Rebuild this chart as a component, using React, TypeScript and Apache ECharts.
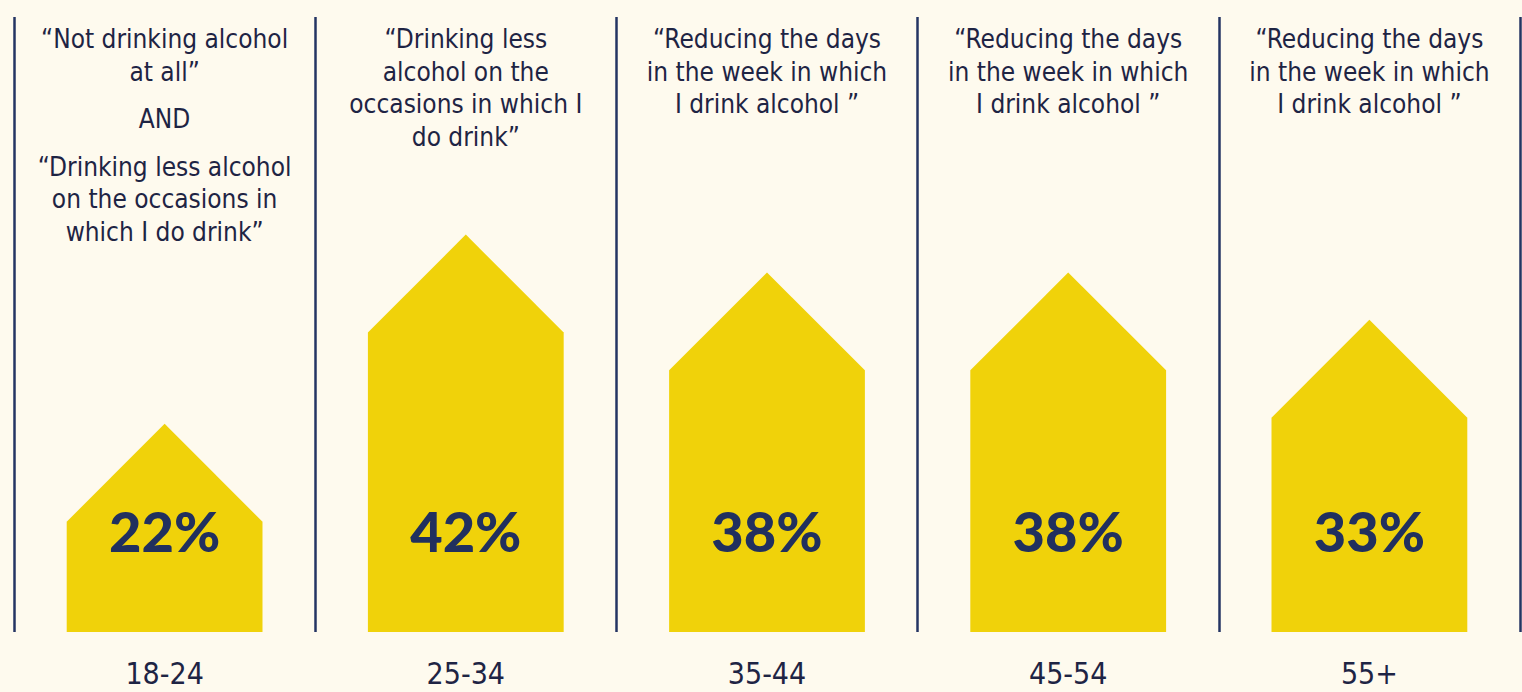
import React, { useEffect, useRef } from 'react';
import * as echarts from 'echarts';

const categories = ['18-24', '25-34', '35-44', '45-54', '55+'];
const percentages = [22, 42, 38, 38, 33];
const quotes = [
  '“Not drinking alcohol\nat all”\n\nAND\n\n“Drinking less alcohol\non the occasions in\nwhich I do drink”',
  '“Drinking less\nalcohol on the\noccasions in which I\ndo drink”',
  '“Reducing the days\nin the week in which\nI drink alcohol ”',
  '“Reducing the days\nin the week in which\nI drink alcohol ”',
  '“Reducing the days\nin the week in which\nI drink alcohol ”',
];

const BG = '#fefaee';
const YELLOW = '#f0d20a';
const LINE = '#243463';
const TEXT = '#1e2444';
const PCT = '#21305e';
const FONT = '"DejaVu Sans Condensed", "DejaVu Sans", sans-serif';

export default function App() {
  const ref = useRef<HTMLDivElement>(null);
  useEffect(() => {
    const chart = echarts.init(ref.current!, null, { renderer: 'svg' });
    chart.setOption({
      animation: false,
      backgroundColor: BG,
      grid: { left: 14, right: 2, top: 17, bottom: 60 },
      xAxis: [
        {
          type: 'category',
          data: categories,
          position: 'bottom',
          axisLine: { show: false },
          axisTick: { show: false },
          axisLabel: { color: TEXT, fontSize: 30, fontFamily: FONT, margin: 26, interval: 0 },
          splitLine: { show: true, interval: 0, lineStyle: { color: LINE, width: 2.5 } },
        },
        {
          type: 'category',
          data: quotes,
          position: 'top',
          axisLine: { show: false },
          axisTick: { show: false },
          splitLine: { show: false },
          axisLabel: {
            inside: true,
            margin: 6,
            interval: 0,
            formatter: (val: string) =>
              val
                .split('\n')
                .map((l) => (l === '' ? '{g| }' : '{a|' + l + '}'))
                .join('\n'),
            rich: {
              a: { color: TEXT, fontSize: 26, fontFamily: FONT, lineHeight: 32.5, align: 'center' },
              g: { fontSize: 10, lineHeight: 15 },
            },
          },
        },
      ],
      yAxis: { type: 'value', min: 0, max: 65, show: false },
      series: [
        {
          type: 'custom',
          data: percentages.map((v, i) => [i, v]),
          encode: { x: 0, y: 1 },
          renderItem: (params: any, api: any) => {
            const idx = api.value(0);
            const v = api.value(1);
            const base = api.coord([idx, 0]);
            const top = api.coord([idx, v]);
            const band = api.size([1, 0])[0];
            const half = (band * 0.65) / 2;
            const x = base[0];
            return {
              type: 'group',
              children: [
                {
                  type: 'polygon',
                  shape: {
                    points: [
                      [x - half, base[1]],
                      [x - half, top[1] + half],
                      [x, top[1]],
                      [x + half, top[1] + half],
                      [x + half, base[1]],
                    ],
                  },
                  style: { fill: YELLOW },
                },
                {
                  type: 'text',
                  x,
                  y: base[1] - 102,
                  style: {
                    text: v + '%',
                    fill: PCT,
                    fontSize: 56,
                    fontWeight: 900,
                    fontFamily: 'Lato, Inter, sans-serif',
                    align: 'center',
                    verticalAlign: 'middle',
                  },
                },
              ],
            };
          },
        },
      ],
    });
    return () => chart.dispose();
  }, []);
  return (
    <div
      ref={ref}
      style={{ position: 'absolute', left: 0, top: 0, width: 1522, height: 692 }}
    />
  );
}
